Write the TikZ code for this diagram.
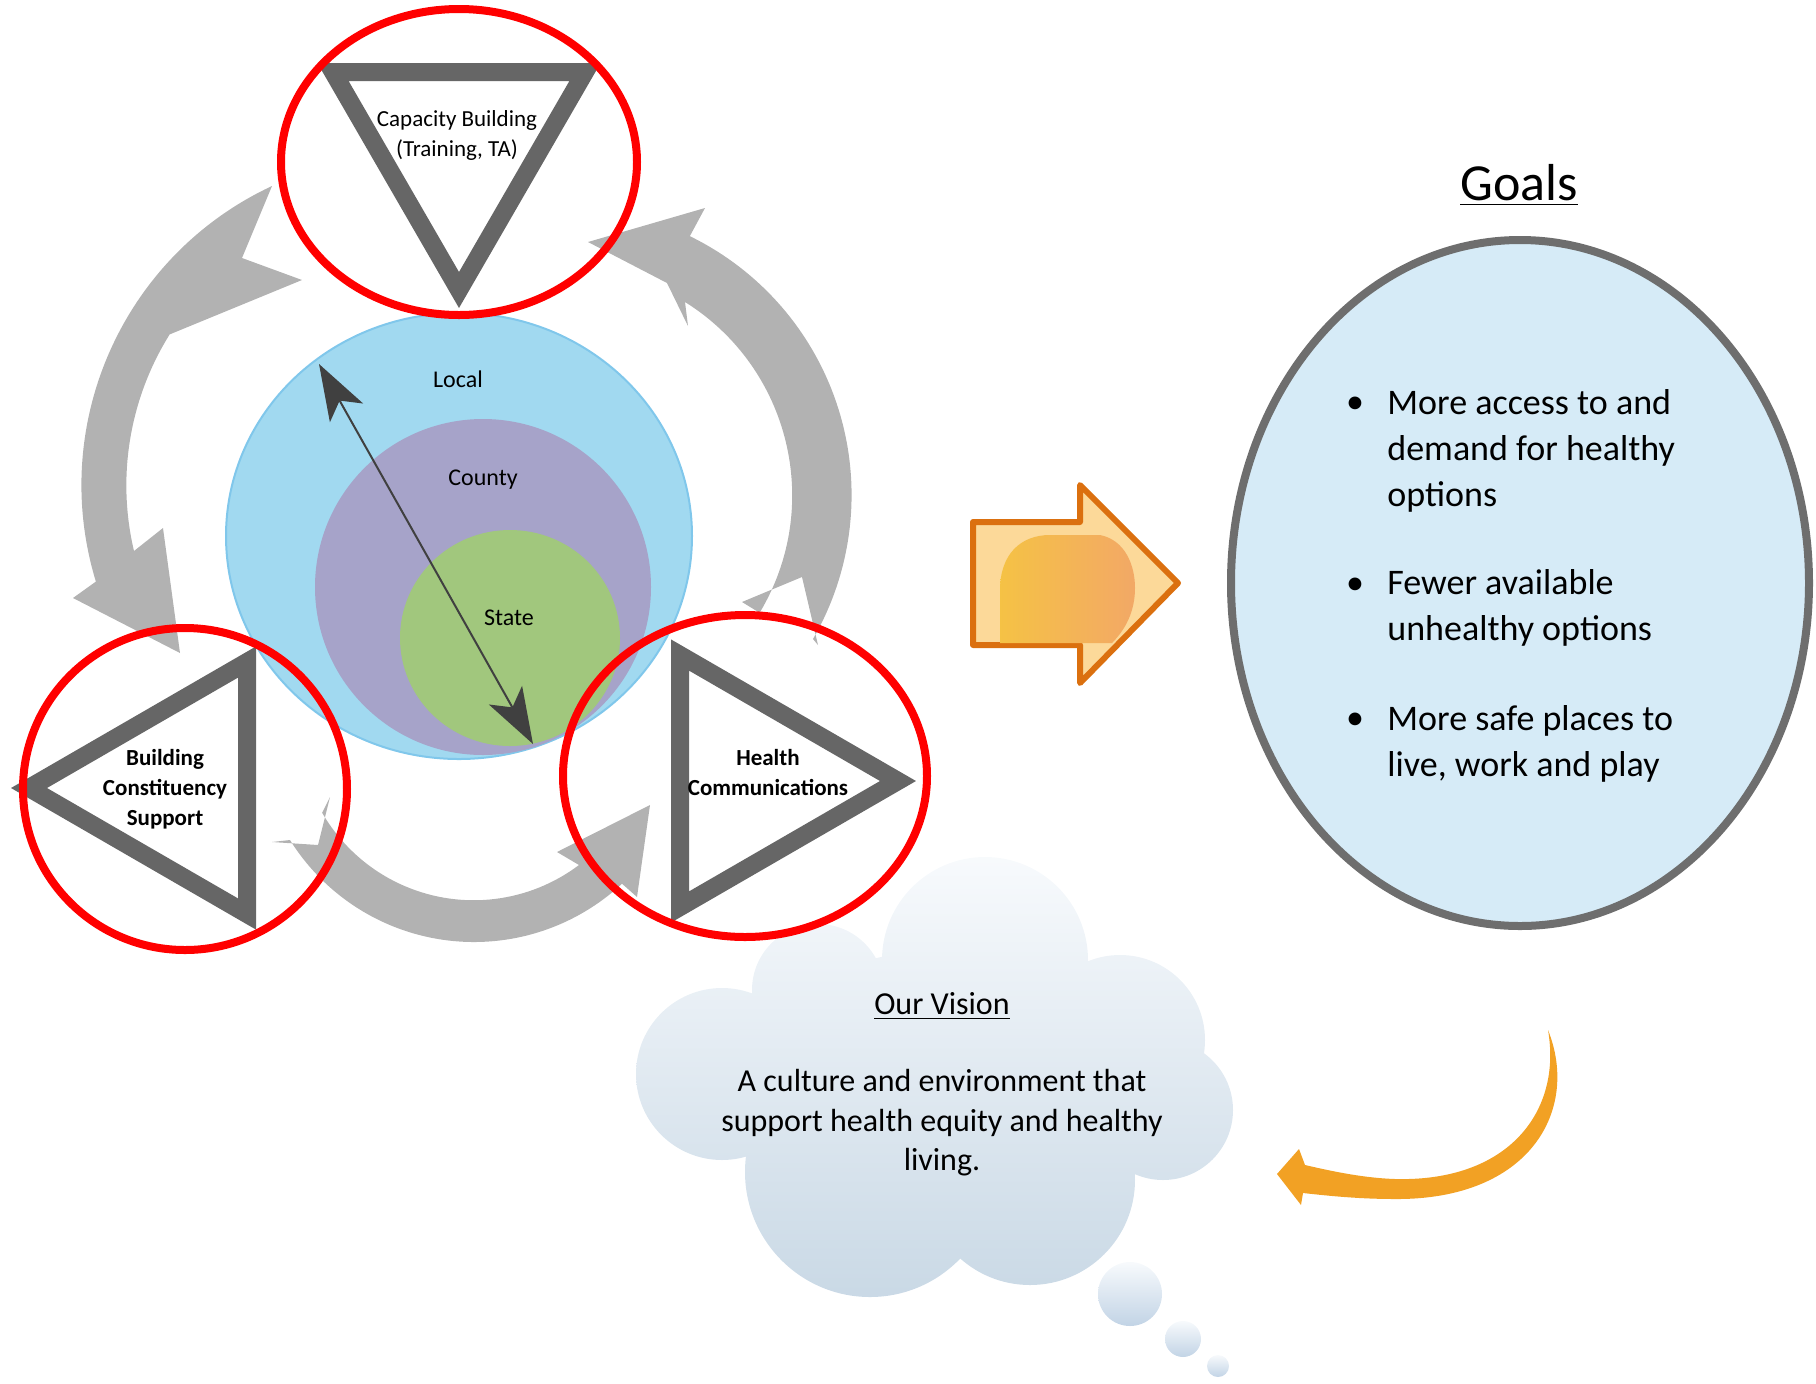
\documentclass[tikz,border=0pt]{standalone}
\usepackage{fontspec}
\setmainfont{Carlito}
\usetikzlibrary{arrows.meta}
\definecolor{local}{rgb}{0.63, 0.85, 0.94}
\definecolor{localedge}{rgb}{0.50, 0.78, 0.92}
\definecolor{county}{rgb}{0.65, 0.64, 0.79}
\definecolor{state}{rgb}{0.63, 0.78, 0.49}
\definecolor{cyc}{rgb}{0.70, 0.70, 0.70}
\definecolor{tri}{rgb}{0.40, 0.40, 0.40}
\definecolor{shaft}{rgb}{0.25, 0.25, 0.25}
\definecolor{goal}{rgb}{0.84, 0.92, 0.97}
\definecolor{goaledge}{rgb}{0.43, 0.43, 0.43}
\definecolor{cloudtop}{rgb}{0.97, 0.98, 0.99}
\definecolor{cloud}{rgb}{0.79, 0.85, 0.90}
\definecolor{bubble}{rgb}{0.76, 0.83, 0.90}
\definecolor{orangeedge}{rgb}{0.86, 0.44, 0.06}
\definecolor{orangelight}{rgb}{0.99, 0.85, 0.60}
\definecolor{orangeleft}{rgb}{0.96, 0.76, 0.27}
\definecolor{orangeright}{rgb}{0.95, 0.66, 0.40}
\definecolor{curve}{rgb}{0.95, 0.63, 0.14}
\newcommand{\trifont}{\fontsize{11.5}{15}\selectfont}
\newcommand{\ringfont}{\fontsize{12}{14}\selectfont}
\newcommand{\titlefont}{\fontsize{26}{31}\selectfont}
\newcommand{\listfont}{\fontsize{18}{23}\selectfont}
\newcommand{\visionfont}{\fontsize{16}{19.75}\selectfont}

\begin{document}
\begin{tikzpicture}[x=0.5pt, y=-0.5pt,
  tri/.style={draw=tri, line width=9pt, fill=white},
  ring/.style={draw=red, line width=4pt},
  bighead/.tip={Stealth[length=28pt, width=19pt, inset=7pt]}]
\useasboundingbox (0, 0) rectangle (1816, 1383);
\fill [cyc] (272, 186) arc (245:163:330) -- (73, 598) -- (180, 653) -- (163, 528) -- (134, 551) arc (166.7:212:285) -- (302, 280) -- (242, 258) -- cycle;
\fill [cyc] (813, 639) arc (30:-64:288) -- (705, 208) -- (588, 242) -- (667, 283) -- (688, 326) -- (685, 302) arc (-58:31:228) -- (742, 602) -- (802, 577) -- (818, 645) -- cycle;
\fill [cyc] (272, 842) -- (290, 840) arc (148:47:217) -- (637, 897) -- (650, 805) -- (557, 852) -- (579, 865) arc (53:150:175) -- (330, 797) -- (318, 845) -- cycle;
\draw [fill=local, draw=localedge, line width=1pt] (459, 536) ellipse (233 and 223);
\fill [county] (483, 587) circle (168);
\fill [state] (510, 638) ellipse (110 and 108);
\node (local) [font=\ringfont] at (458, 379) {Local};
\node (county) [font=\ringfont] at (483, 480) {County};
\node (state) [font=\ringfont] at (509, 618) {State};
\coordinate (up) at (319, 364);
\coordinate (down) at (533, 744);
\draw [draw=shaft, line width=1pt, bighead-bighead] (up) -- (down);
\draw [tri] (333, 72) -- (585, 72) -- (459, 290) -- cycle;
\draw [tri] (247, 662) -- (247, 914) -- (29, 788) -- cycle;
\draw [tri] (680, 655) -- (680, 907) -- (898, 781) -- cycle;
\node (cap) [font=\trifont, align=center] at (457, 135) {Capacity Building\\(Training, TA)};
\node (bcs) [font=\trifont\bfseries, align=center] at (165, 789) {Building\\Constituency\\Support};
\node (hc) [font=\trifont\bfseries, align=center] at (768, 773) {Health\\Communications};
\draw [fill=orangelight, draw=orangeedge, line width=3pt, line join=round] (973, 522) -- (1080, 522) -- (1080, 485) -- (1178, 583) -- (1080, 683) -- (1080, 645) -- (973, 645) -- cycle;
\shade [left color=orangeleft, right color=orangeright] (1000, 643) -- (1000, 590) .. controls (1000, 555) and (1020, 535) .. (1050, 535) -- (1100, 535) .. controls (1125, 540) and (1135, 565) .. (1135, 588) .. controls (1135, 612) and (1125, 630) .. (1112, 643) -- cycle;
\node (goals) [font=\titlefont] at (1519, 185) {\underline{Goals}};
\draw [fill=goal, draw=goaledge, line width=4pt] (1520, 583) ellipse (289 and 343);
\node (dot1) [font=\listfont] at (1355, 405) {\textbullet};
\node (dot2) [font=\listfont] at (1355, 586) {\textbullet};
\node (dot3) [font=\listfont] at (1355, 721) {\textbullet};
\node (g1) [anchor=west, align=left, inner sep=0pt, font=\listfont] at (1387, 451) {More access to and\\demand for healthy\\options};
\node (g2) [anchor=west, align=left, inner sep=0pt, font=\listfont] at (1387, 608) {Fewer available\\unhealthy options};
\node (g3) [anchor=west, align=left, inner sep=0pt, font=\listfont] at (1387, 744) {More safe places to\\live, work and play};
\shade [top color=cloudtop, bottom color=cloud] (985, 960) circle (103) (818, 990) circle (66) (722, 1074) circle (86) (870, 1172) circle (125) (1030, 1180) circle (105) (1163, 1110) circle (70) (1120, 1040) circle (85) (950, 1090) ellipse (220 and 140);
\shade [top color=cloudtop, bottom color=bubble] (1130, 1294) circle (32);
\shade [top color=cloudtop, bottom color=bubble] (1183, 1339) circle (18);
\shade [top color=cloudtop, bottom color=bubble] (1218, 1366) circle (11);
\node (vtitle) [font=\visionfont] at (942, 1006) {\underline{Our Vision}};
\node (vtext) [font=\visionfont, align=center] at (942, 1123) {A culture and environment that\\support health equity and healthy\\living.};
\fill [curve] (1548, 1030) .. controls (1580, 1110) and (1530, 1200) .. (1395, 1199) .. controls (1360, 1199) and (1330, 1196) .. (1303, 1193) -- (1301, 1205) -- (1277, 1174) -- (1299, 1149) -- (1305, 1165) .. controls (1335, 1172) and (1365, 1178) .. (1395, 1179) .. controls (1510, 1182) and (1562, 1110) .. (1548, 1030) -- cycle;
\draw [ring] (459, 162) ellipse (178 and 153);
\draw [ring] (185, 789) ellipse (162 and 161);
\draw [ring] (745, 776) ellipse (182 and 161);
\end{tikzpicture}
\end{document}
